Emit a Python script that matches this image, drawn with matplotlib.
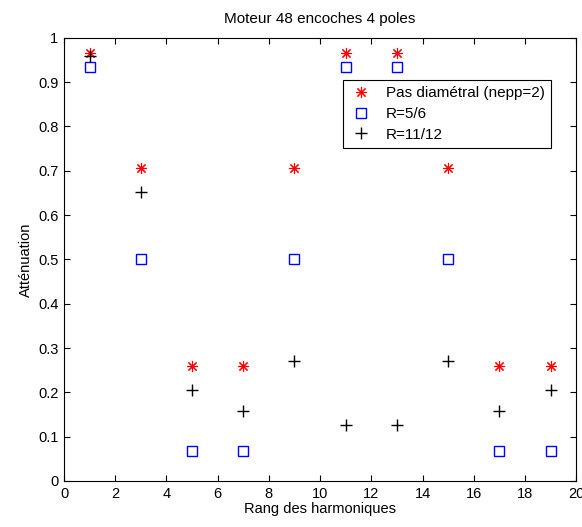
import matplotlib
matplotlib.use('Agg')
import matplotlib.pyplot as plt

plt.rcParams['font.family'] = ['Liberation Sans', 'DejaVu Sans']

rang = [1, 3, 5, 7, 9, 11, 13, 15, 17, 19]
pas_diam = [0.966, 0.707, 0.259, 0.259, 0.707, 0.966, 0.966, 0.707, 0.259, 0.259]
r_5_6 = [0.933, 0.500, 0.067, 0.067, 0.500, 0.933, 0.933, 0.500, 0.067, 0.067]
r_11_12 = [0.958, 0.653, 0.205, 0.158, 0.271, 0.126, 0.126, 0.271, 0.158, 0.205]

fig = plt.figure(figsize=(5.82, 5.27), dpi=100)
ax = fig.add_axes([0.110, 0.0873, 0.880, 0.841])

ax.plot(rang, pas_diam, linestyle='none', marker=(8, 2, 0), color='red',
        markersize=8, markeredgewidth=0.8, label='Pas diamétral (nepp=2)')
ax.plot(rang, r_5_6, linestyle='none', marker='s', color='blue',
        markerfacecolor='none', markersize=7, markeredgewidth=1, label='R=5/6')
ax.plot(rang, r_11_12, linestyle='none', marker='+', color='black',
        markersize=8, markeredgewidth=1, label='R=11/12')

ax.set_xlim(0, 20)
ax.set_ylim(0, 1)
ax.set_xticks(range(0, 21, 2))
ax.set_yticks([i / 10 for i in range(11)])
ax.set_yticklabels(['0', '0.1', '0.2', '0.3', '0.4', '0.5', '0.6', '0.7', '0.8', '0.9', '1'])
ax.tick_params(direction='in', top=True, right=True, labelsize=10.5, length=4, pad=4)
for s in ax.spines.values():
    s.set_linewidth(0.8)

ax.set_title('Moteur 48 encoches 4 poles', fontsize=11, pad=11)
ax.set_xlabel('Rang des harmoniques', fontsize=10.5, labelpad=1)
ax.set_ylabel('Atténuation', fontsize=10.5, labelpad=4)

leg = ax.legend(loc='upper left', bbox_to_anchor=(0.545, 0.905), fontsize=11,
                fancybox=False, edgecolor='black', framealpha=1,
                borderaxespad=0, handletextpad=0.8, labelspacing=0.45,
                borderpad=0.4, handlelength=1.6)
leg.get_frame().set_linewidth(0.8)

fig.savefig('out.png', dpi=100)
